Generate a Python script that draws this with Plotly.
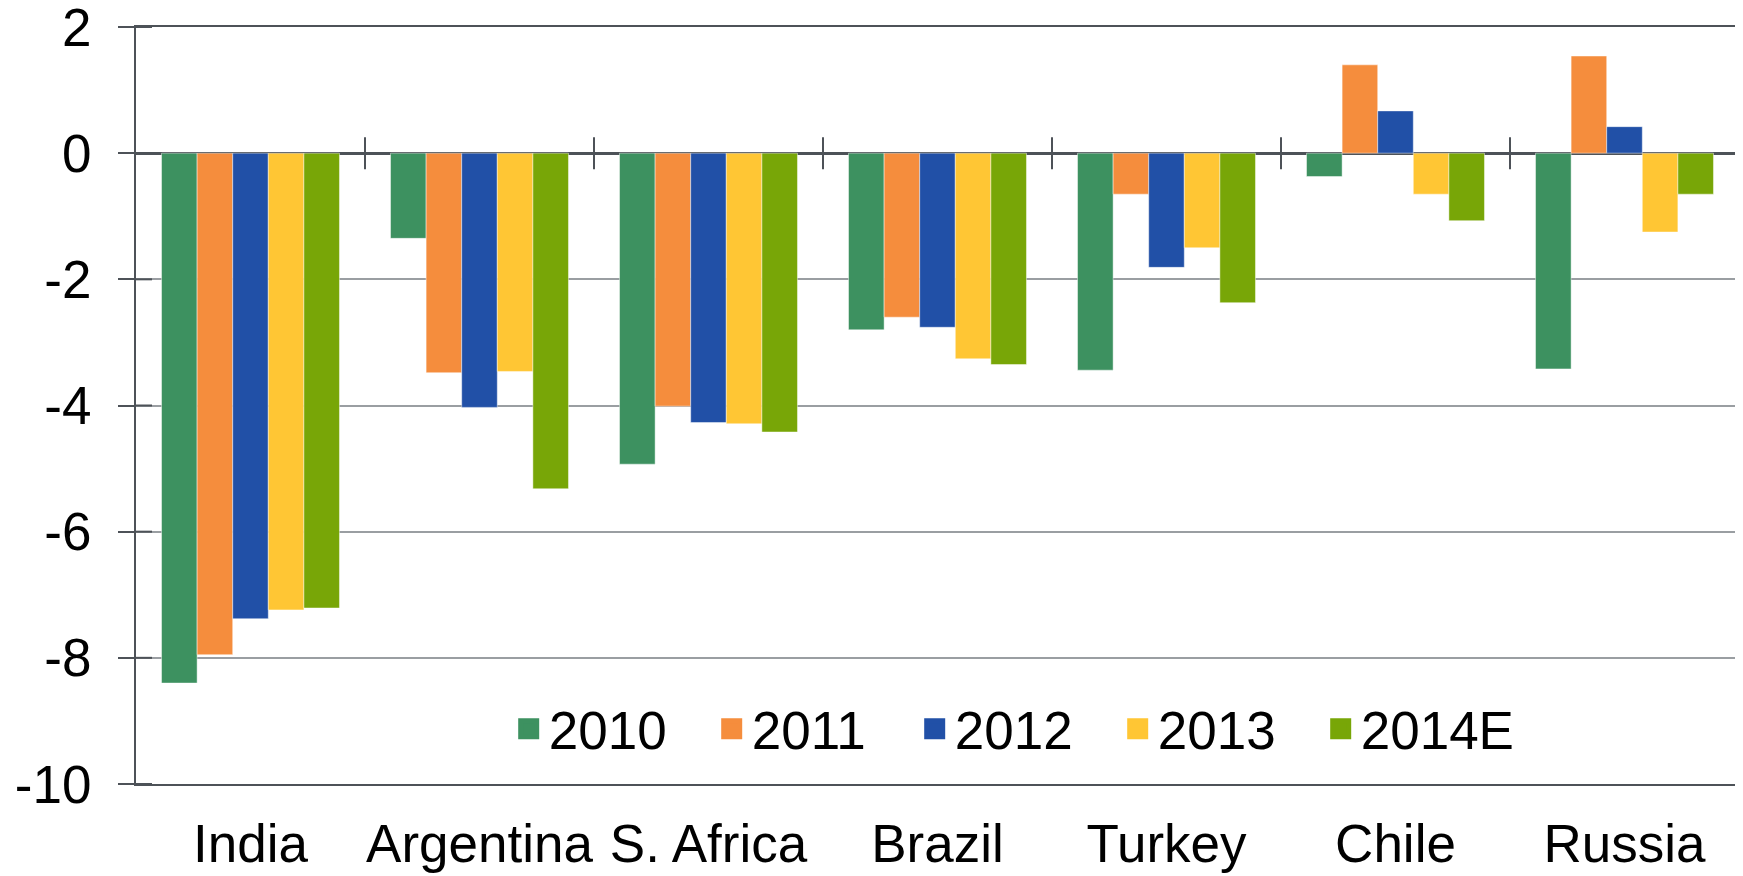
import plotly.graph_objects as go

# ── Data ──────────────────────────────────────────────────────────────────────
countries = ["India", "Argentina", "S. Africa", "Brazil", "Turkey", "Chile", "Russia"]
years = ["2010", "2011", "2012", "2013", "2014E"]

v2010 = [-8.40, -1.35, -4.93, -2.80, -3.44, -0.37, -3.42]
v2011 = [-7.95, -3.48, -4.01, -2.60, -0.65, 1.40, 1.54]
v2012 = [-7.38, -4.03, -4.27, -2.76, -1.81, 0.67, 0.42]
v2013 = [-7.24, -3.46, -4.29, -3.26, -1.50, -0.65, -1.25]
v2014 = [-7.21, -5.32, -4.42, -3.35, -2.37, -1.07, -0.65]

y_ticks = [2, 0, -2, -4, -6, -8, -10]
y_labels = ["2", "0", "-2", "-4", "-6", "-8", "-10"]

# ── Style ─────────────────────────────────────────────────────────────────────
COLORS = ["#3D9160", "#F58D3D", "#2150A7", "#FFC634", "#78A607"]
C_AXIS = "#4D5258"
C_GRID = "#9A9EA2"
FONT = "Arial, Liberation Sans, sans-serif"
TICK_PX = 16      # half length of the crossing tick marks
PLOT_W, PLOT_H = 1603, 757

fig = go.Figure()
for name, vals, color in zip(years, [v2010, v2011, v2012, v2013, v2014], COLORS):
    fig.add_trace(go.Bar(
        x=countries, y=vals, name=name, showlegend=False, legendgroup=name,
        marker=dict(color=color, line=dict(color="rgba(255,255,255,0.45)", width=1)),
    ))
    # legend-only proxy so the legend gets bigger square swatches
    fig.add_trace(go.Scatter(
        x=[None], y=[None], name=name, mode="markers", legendgroup=name,
        marker=dict(symbol="square", size=16, color=color, line=dict(color=color, width=5)),
        hoverinfo="skip",
    ))

n = len(countries)
y_range = [min(y_ticks), max(y_ticks)]
units_per_px = (y_range[1] - y_range[0]) / PLOT_H

# category separators crossing the zero line
for i in range(n - 1):
    fig.add_shape(type="line", xref="x", yref="y",
                  x0=i + 0.5, x1=i + 0.5,
                  y0=-TICK_PX * units_per_px, y1=TICK_PX * units_per_px,
                  line=dict(color=C_AXIS, width=2))
# inner half of the y tick marks
for t in y_ticks:
    fig.add_shape(type="line", xref="paper", yref="y",
                  x0=0, x1=TICK_PX / PLOT_W, y0=t, y1=t,
                  line=dict(color=C_AXIS, width=2))

# the page body adds an 8px offset, so the figure is 8px smaller each way
fig.update_layout(
    width=1735, height=868,
    paper_bgcolor="white", plot_bgcolor="white",
    font=dict(family=FONT, size=53, color="black"),
    margin=dict(l=128, r=4, t=19, b=92),
    barmode="group", bargap=0.223, bargroupgap=0,
    showlegend=True,
    legend=dict(
        orientation="h", x=0.2325, xanchor="left", y=0.073, yanchor="middle",
        font=dict(size=53), entrywidth=158, entrywidthmode="pixels",
        bgcolor="rgba(0,0,0,0)", traceorder="normal", itemclick=False,
    ),
    xaxis=dict(
        type="category", showline=True, linecolor=C_AXIS, linewidth=2, mirror=True,
        ticks="", showgrid=False, zeroline=False, ticklabelstandoff=12,
        automargin=False,
    ),
    yaxis=dict(
        range=y_range, tickvals=y_ticks, ticktext=y_labels,
        showline=True, linecolor=C_AXIS, linewidth=2, mirror=True,
        ticks="outside", ticklen=TICK_PX, tickwidth=2, tickcolor=C_AXIS,
        showgrid=True, gridcolor=C_GRID, gridwidth=2,
        zeroline=True, zerolinecolor=C_AXIS, zerolinewidth=3,
        ticklabelstandoff=16, ticklabeloverflow="allow", automargin=False,
    ),
)

fig.write_html("out.html")
